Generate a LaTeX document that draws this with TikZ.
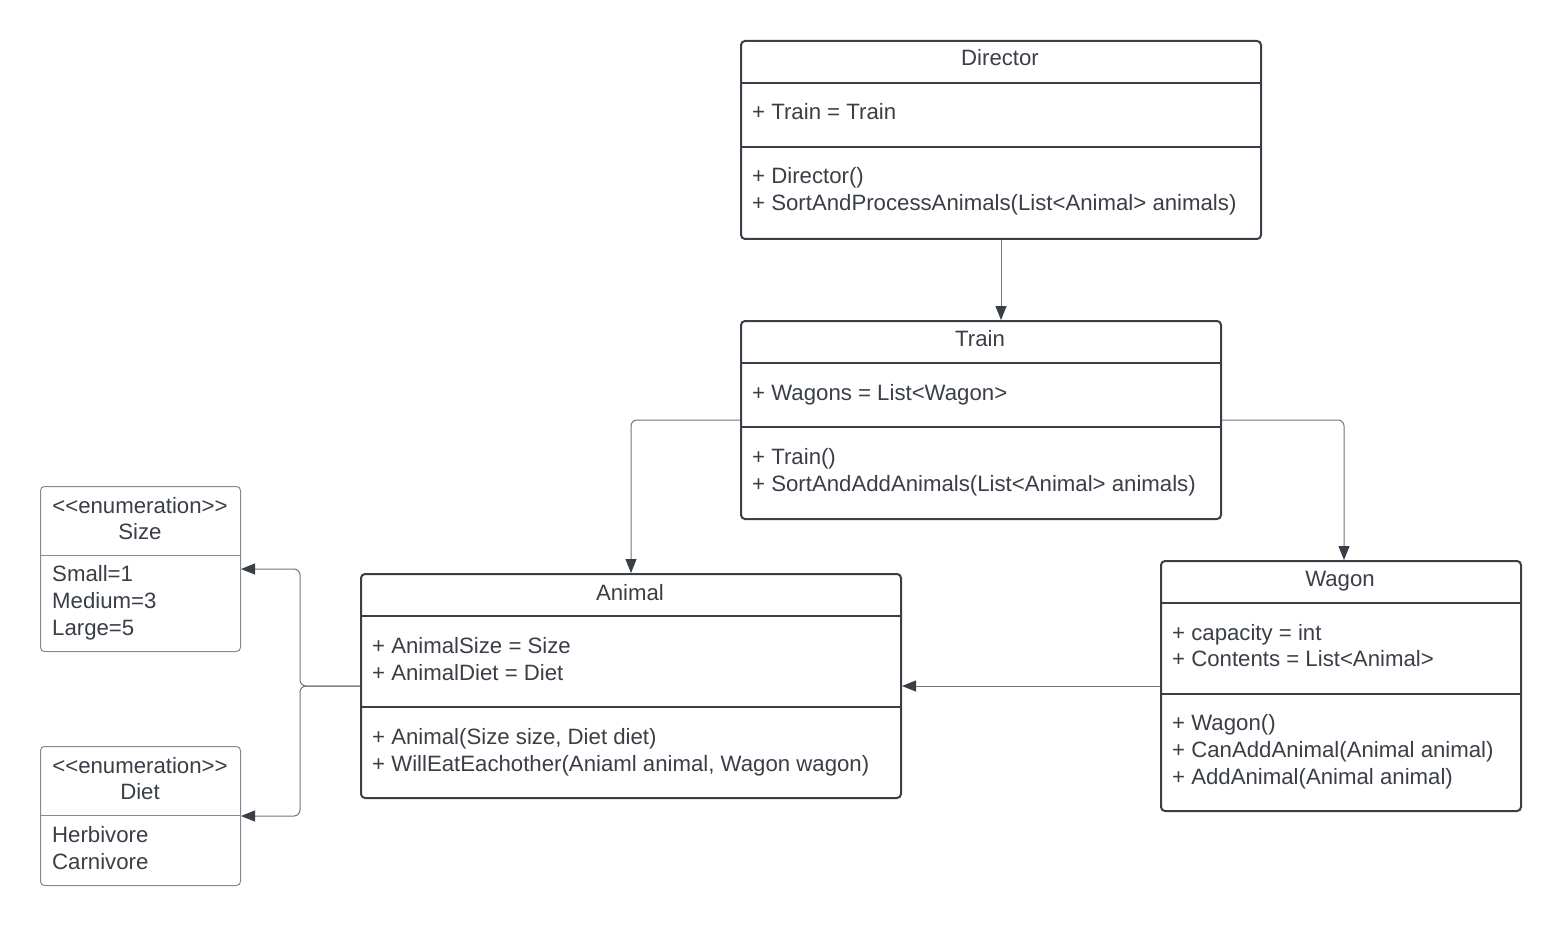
\documentclass[tikz,border=0pt]{standalone}
\usepackage{fontspec}
\newfontfamily\umlfont{Liberation Sans}
\usetikzlibrary{arrows.meta}
\definecolor{ink}{HTML}{3A3F47}
\definecolor{wire}{HTML}{70757C}
\definecolor{lightedge}{HTML}{858A91}

\begin{document}
\begin{tikzpicture}[x=1pt,y=-1pt,
  cls/.style={draw=ink, line width=2pt, rounded corners=4pt, rectangle, inner sep=0pt, anchor=north west},
  enumbox/.style={draw=lightedge, line width=1pt, rounded corners=4pt, rectangle, inner sep=0pt, anchor=north west},
  rule/.style={draw=ink, line width=2pt},
  thinrule/.style={draw=lightedge, line width=1pt},
  txt/.style={anchor=base west, inner sep=0pt, text=ink, font=\umlfont\fontsize{22.2}{26}\selectfont},
  ttl/.style={anchor=base, inner sep=0pt, text=ink, font=\umlfont\fontsize{22.2}{26}\selectfont},
  link/.style={draw=wire, line width=1pt, rounded corners=6pt,
    -{Triangle[length=14pt, width=11pt, color=ink]}}]

\fill[white] (0,0) rectangle (1560,925);
\path[use as bounding box] (0,0) rectangle (1560,925);

% ---- Director ----
\node[cls, minimum width=520pt, minimum height=198pt] (director) at (740,40) {};
\draw[rule] (740,83) -- (1260,83);
\draw[rule] (740,147) -- (1260,147);
\node[ttl] (directorT) at (1000,66) {Director};
\node[txt] (directorA1) at (752,120) {+ Train = Train};
\node[txt] (directorM1) at (752,184) {+ Director()};
\node[txt] (directorM2) at (752,211) {+ SortAndProcessAnimals(List<Animal> animals)};

% ---- Train ----
\node[cls, minimum width=480pt, minimum height=198pt] (train) at (740,320) {};
\draw[rule] (740,363) -- (1220,363);
\draw[rule] (740,427) -- (1220,427);
\node[ttl] (trainT) at (980,346) {Train};
\node[txt] (trainA1) at (752,400) {+ Wagons = List<Wagon>};
\node[txt] (trainM1) at (752,464) {+ Train()};
\node[txt] (trainM2) at (752,491) {+ SortAndAddAnimals(List<Animal> animals)};

% ---- Animal ----
\node[cls, minimum width=540pt, minimum height=224pt] (animal) at (360,573) {};
\draw[rule] (360,616) -- (900,616);
\draw[rule] (360,707) -- (900,707);
\node[ttl] (animalT) at (630,600) {Animal};
\node[txt] (animalA1) at (372,653) {+ AnimalSize = Size};
\node[txt] (animalA2) at (372,680) {+ AnimalDiet = Diet};
\node[txt] (animalM1) at (372,744) {+ Animal(Size size, Diet diet)};
\node[txt] (animalM2) at (372,771) {+ WillEatEachother(Aniaml animal, Wagon wagon)};

% ---- Wagon ----
\node[cls, minimum width=360pt, minimum height=250pt] (wagon) at (1160,560) {};
\draw[rule] (1160,603) -- (1520,603);
\draw[rule] (1160,694) -- (1520,694);
\node[ttl] (wagonT) at (1340,586) {Wagon};
\node[txt] (wagonA1) at (1172,640) {+ capacity = int};
\node[txt] (wagonA2) at (1172,666) {+ Contents = List<Animal>};
\node[txt] (wagonM1) at (1172,730) {+ Wagon()};
\node[txt] (wagonM2) at (1172,757) {+ CanAddAnimal(Animal animal)};
\node[txt] (wagonM3) at (1172,784) {+ AddAnimal(Animal animal)};

% ---- Size enumeration ----
\node[enumbox, minimum width=200pt, minimum height=165pt] (size) at (40,486) {};
\draw[thinrule] (40,555) -- (240,555);
\node[ttl] (sizeS) at (140,513) {<<enumeration>>};
\node[ttl] (sizeT) at (140,539) {Size};
\node[txt] (sizeV1) at (52,581) {Small=1};
\node[txt] (sizeV2) at (52,608) {Medium=3};
\node[txt] (sizeV3) at (52,635) {Large=5};

% ---- Diet enumeration ----
\node[enumbox, minimum width=200pt, minimum height=139pt] (diet) at (40,746) {};
\draw[thinrule] (40,815) -- (240,815);
\node[ttl] (dietS) at (140,773) {<<enumeration>>};
\node[ttl] (dietT) at (140,799) {Diet};
\node[txt] (dietV1) at (52,842) {Herbivore};
\node[txt] (dietV2) at (52,869) {Carnivore};

% ---- connectors ----
\draw[link] (director.south) -- (director.south |- train.north);
\draw[link] (train.west) -| (animal.north);
\draw[link] (train.east) -| ([xshift=3pt]wagon.north);
\draw[link] (wagon.west) -- (animal.east);
\draw[link] (animal.west) -- ++(-60,0) |- (size.east);
\draw[link] (animal.west) -- ++(-60,0) |- (diet.east);
\end{tikzpicture}
\end{document}
